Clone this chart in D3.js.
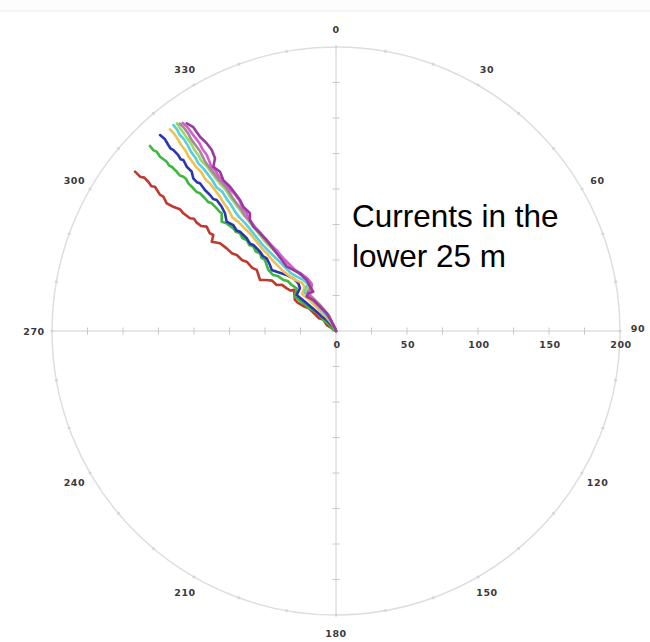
<!DOCTYPE html>
<html>
<head>
<meta charset="utf-8">
<script src="https://cdn.jsdelivr.net/npm/d3@7"></script>
<style>
  body { margin: 0; background: #fff; }
  svg { display: block; }
</style>
</head>
<body>
<div id="chart"></div>
<script>
// Progressive vector tracks, [east, north] in axis units, from origin outward
const trackRed = [[0,0],[-3,2],[-6.5,4.2],[-9,8],[-12,9],[-16,13],[-19,16],[-22,17],[-27,20],[-29,22],[-29.5,29],[-32,28.5],[-34.7,30],[-38,32.5],[-41.8,32.4],[-45,35.5],[-48.8,35.9],[-53.5,35.9],[-55.8,43],[-59,44.5],[-62.9,48.8],[-66,49.8],[-69.9,53.5],[-73,54.5],[-77,58.2],[-81.7,61.8],[-87.5,62.9],[-86.4,67.6],[-89,69],[-91.1,73.5],[-95,74],[-98.1,76.3],[-100,79],[-102.8,79.4],[-107.5,82.9],[-110,85.8],[-114.6,87.5],[-119.2,89.9],[-121.6,94.6],[-124,96],[-127.5,101.6],[-130,102],[-132.2,105.1],[-135,108],[-138,108.7],[-141.5,112.2]];
const trackGreen = [[0,0],[-1.9,0.7],[-5,4.8],[-8.9,7.7],[-12,11.8],[-16,14.8],[-19.5,16.5],[-23,19.5],[-28.9,24.2],[-27.7,30.1],[-31.2,32.4],[-34,35.2],[-37.1,35.9],[-41,38.8],[-44.2,39.4],[-47.7,43],[-50,50],[-52.5,51.5],[-53.5,54.7],[-56.5,56],[-58.2,59.4],[-61,60.5],[-62.9,64.1],[-66,65.5],[-67.6,68.8],[-70.5,69.8],[-72.3,72.3],[-77,75.8],[-80.5,77],[-80.5,82.9],[-82,84],[-84,86.4],[-87.5,89.9],[-90,90.8],[-92.3,93.5],[-95.8,97],[-98,97.8],[-100.5,100.5],[-104,104],[-105.5,107],[-107.5,108.7],[-110,109.5],[-112.2,112.2],[-115.7,115.7],[-117.5,116.5],[-119.2,119.2],[-123.9,122.7],[-126.3,126.3],[-128.5,127.2],[-131,130.3]];
const trackBlue = [[0,0],[-0.7,1.9],[-6.5,7.7],[-10,10.2],[-13.6,13.6],[-20.6,19.5],[-27.7,25.4],[-25.4,30.1],[-26.5,33.6],[-30.1,37.1],[-34.7,39.4],[-41.8,41.8],[-45.3,43],[-46.5,46.5],[-48.8,51.2],[-51.5,52.8],[-53.5,55.8],[-58.2,60.6],[-60.5,61.5],[-62.9,65.3],[-67.6,69.9],[-70,70.8],[-72.3,74.6],[-77,77],[-78.2,82.9],[-80.5,87.5],[-84,92.3],[-86.5,93],[-88.7,95.8],[-92.3,99.3],[-95.8,104],[-98,104.8],[-100.5,107.5],[-101.6,112.2],[-105.1,115.7],[-107.5,120.4],[-109.5,121],[-111.1,123.9],[-114.6,127.5],[-116.5,128.5],[-118.1,131],[-120.4,135],[-123.9,138]];
const trackOrange = [[0,0],[-2,4],[-7,10],[-13,16],[-19,22],[-24,26],[-22,31],[-24,34],[-29,36],[-33,39],[-37,42],[-41,46],[-45,50],[-48,54],[-52,58],[-56,63],[-60,68],[-65,73],[-69,77],[-73,80],[-76,86],[-79,90],[-82,95],[-85,99],[-88,103],[-92,107],[-95,112],[-98,115],[-101,119],[-104,123],[-106,127],[-109,131],[-112,136],[-114,139],[-117,142]];
const trackCyan = [[0,0],[-2,4],[-6,10],[-12,17],[-18,23],[-22,27],[-20,33],[-23,36],[-27,38],[-32,41],[-36,45],[-40,49],[-44,53],[-48,57],[-52,61],[-56,66],[-60,71],[-64,76],[-68,80],[-71,84],[-74,89],[-77,93],[-80,98],[-84,101],[-87,106],[-90,110],[-93,114],[-97,118],[-99,122],[-102,126],[-104,130],[-107,135],[-110,138],[-112,142],[-114.5,145]];
const trackLime = [[0,0],[-2,4],[-6,11],[-11,18],[-17,24],[-21,28],[-18,34],[-21,37],[-25,40],[-30,43],[-34,47],[-38,51],[-42,55],[-46,59],[-50,63],[-54,68],[-58,73],[-62,78],[-66,83],[-69,87],[-72,91],[-75,95],[-78,100],[-82,104],[-85,108],[-88,112],[-91,116],[-95,120],[-97,124],[-100,128],[-102,132],[-105,136],[-107,139],[-110,143],[-112,146.3]];
const trackGrey = [[0,0],[-2,4],[-5,11],[-11,18],[-16,23],[-20,27],[-17,32],[-20,36],[-24,39],[-28,42],[-32,46],[-36,50],[-40,54],[-44,58],[-48,62],[-52,67],[-56,72],[-60,77],[-64,81],[-67,86],[-70,90],[-73,94],[-76,99],[-79,103],[-83,107],[-86,111],[-89,115],[-92,119],[-94,123],[-96,127],[-99,131],[-102,135],[-104,139],[-107,143],[-110,146]];
const trackMagenta = [[0,0],[-1,3],[-5,10],[-10,16],[-15,21],[-19,25],[-18,27],[-17,33],[-20,37],[-24,40],[-29,43],[-33,47],[-37,51],[-41,56],[-45,60],[-49,64],[-53,69],[-57,73],[-61,78],[-63,83],[-66,87],[-68,92],[-71,96],[-75,100],[-78,104],[-82,108],[-85,113],[-88,116],[-89,119],[-91,124],[-94,128],[-96,132],[-99,136],[-102,140],[-105,144],[-108,146.5]];
const trackPurple = [[0,0],[-0.7,1.9],[-3,6.5],[-6.5,12.5],[-11.3,17.1],[-16,21.8],[-20.6,24.2],[-19.5,26.5],[-16,27.7],[-18.3,31.2],[-20.6,35.9],[-25.4,40.6],[-30.1,43],[-34.7,45.3],[-38.2,50],[-41.8,54.7],[-45.3,59.4],[-48.8,64.1],[-53.5,68.8],[-58.2,73.5],[-60.6,78.2],[-60.6,82.9],[-65.3,87.5],[-67.6,92.3],[-71.1,97],[-74.6,101.6],[-79.4,106.3],[-81.7,112.2],[-86.4,115.7],[-85.2,121.6],[-87.5,127.5],[-91.1,132.2],[-95.8,136.8],[-100.5,143.5],[-105.1,146.3]];

const tracks = [trackRed, trackGreen, trackBlue, trackOrange, trackCyan, trackLime, trackGrey, trackMagenta, trackPurple];
const trackColours = ["#c0392f", "#3cb83c", "#2a35b0", "#f2c04e", "#52cfe0", "#9ad96a", "#a58a92", "#d35fcf", "#9a3a9e"];

// Axis labels
const angleLabels = [0, 30, 60, 90, 120, 150, 180, 210, 240, 270, 300, 330];
const radialLabels = [0, 50, 100, 150, 200];
const title = ["Currents in the", "lower 25 m"];

const width = 650;
const height = 642;
const cx = 336;
const cy = 331;
const maxR = 284;

const svg = d3.select("#chart")
  .append("svg")
  .attr("width", width)
  .attr("height", height);

// faint band along the top of the picture
svg.append("rect").attr("x", 0).attr("y", 0).attr("width", width).attr("height", 11).attr("fill", "#fdfdfd");
svg.append("line").attr("x1", 0).attr("x2", width).attr("y1", 11).attr("y2", 11)
  .attr("stroke", "#f1f1f1").attr("stroke-width", 1.5);

const r = d3.scaleLinear().domain([0, 200]).range([0, maxR]);
const x = d3.scaleLinear().domain([-200, 200]).range([cx - maxR, cx + maxR]);
const y = d3.scaleLinear().domain([-200, 200]).range([cy + maxR, cy - maxR]);

const grid = svg.append("g");

// outer ring
grid.append("circle")
  .attr("cx", cx).attr("cy", cy).attr("r", r(200))
  .attr("fill", "none").attr("stroke", "#dedede").attr("stroke-width", 1.5);

// small marks every 10 degrees on the ring
grid.selectAll(".ring-tick")
  .data(d3.range(0, 360, 10))
  .join("line")
  .attr("class", "ring-tick")
  .attr("x1", d => cx + (r(200) - 1.5) * Math.sin(d * Math.PI / 180))
  .attr("y1", d => cy - (r(200) - 1.5) * Math.cos(d * Math.PI / 180))
  .attr("x2", d => cx + (r(200) + 1.5) * Math.sin(d * Math.PI / 180))
  .attr("y2", d => cy - (r(200) + 1.5) * Math.cos(d * Math.PI / 180))
  .attr("stroke", "#d4d4d4").attr("stroke-width", 2);

// cross axes
grid.append("line")
  .attr("x1", x(-200)).attr("x2", x(200)).attr("y1", y(0)).attr("y2", y(0))
  .attr("stroke", "#d0d0d0").attr("stroke-width", 1);
grid.append("line")
  .attr("x1", x(0)).attr("x2", x(0)).attr("y1", y(-200)).attr("y2", y(200))
  .attr("stroke", "#d0d0d0").attr("stroke-width", 1);

// ticks every 25 units along both axes
const tickVals = d3.range(-175, 200, 25).filter(d => d !== 0);
grid.selectAll(".xtick")
  .data(tickVals)
  .join("line")
  .attr("class", "xtick")
  .attr("x1", d => x(d)).attr("x2", d => x(d))
  .attr("y1", y(0) - 3.5).attr("y2", y(0) + 3.5)
  .attr("stroke", "#c8c8c8").attr("stroke-width", 1);
grid.selectAll(".ytick")
  .data(tickVals)
  .join("line")
  .attr("class", "ytick")
  .attr("y1", d => y(d)).attr("y2", d => y(d))
  .attr("x1", x(0) - 3.5).attr("x2", x(0) + 3.5)
  .attr("stroke", "#c8c8c8").attr("stroke-width", 1);

const labelFont = "'DejaVu Sans', sans-serif";

// compass labels
svg.selectAll(".angle-label")
  .data(angleLabels)
  .join("text")
  .attr("class", "angle-label")
  .attr("x", d => cx + (r(200) + 18) * Math.sin(d * Math.PI / 180))
  .attr("y", d => cy - (r(200) + 18) * Math.cos(d * Math.PI / 180) + (d === 90 ? -3 : 0))
  .attr("text-anchor", "middle")
  .attr("dominant-baseline", "central")
  .attr("font-family", labelFont)
  .attr("font-weight", "bold")
  .attr("font-size", 9.5)
  .attr("letter-spacing", 0.6)
  .attr("fill", "#3a3a3a")
  .text(d => d);

// distance labels under the east axis
svg.selectAll(".radial-label")
  .data(radialLabels)
  .join("text")
  .attr("class", "radial-label")
  .attr("x", d => x(d) + 1)
  .attr("y", y(0) + 13)
  .attr("text-anchor", "middle")
  .attr("dominant-baseline", "central")
  .attr("font-family", labelFont)
  .attr("font-weight", "bold")
  .attr("font-size", 9.5)
  .attr("letter-spacing", 0.6)
  .attr("fill", "#3a3a3a")
  .text(d => d);

// tracks
const line = d3.line()
  .x(d => x(d[0]))
  .y(d => y(d[1]));

svg.append("g")
  .selectAll("path")
  .data(tracks)
  .join("path")
  .attr("d", line)
  .attr("fill", "none")
  .attr("stroke", (_, i) => trackColours[i])
  .attr("stroke-width", 2.6)
  .attr("stroke-linejoin", "round")
  .attr("stroke-linecap", "round");

// annotation
svg.append("text")
  .attr("font-family", "'Liberation Sans', Arial, sans-serif")
  .attr("font-size", 31.5)
  .attr("fill", "#000")
  .selectAll("tspan")
  .data(title)
  .join("tspan")
  .attr("x", 352)
  .attr("y", (_, i) => 227 + i * 40)
  .text(d => d);
</script>
</body>
</html>
